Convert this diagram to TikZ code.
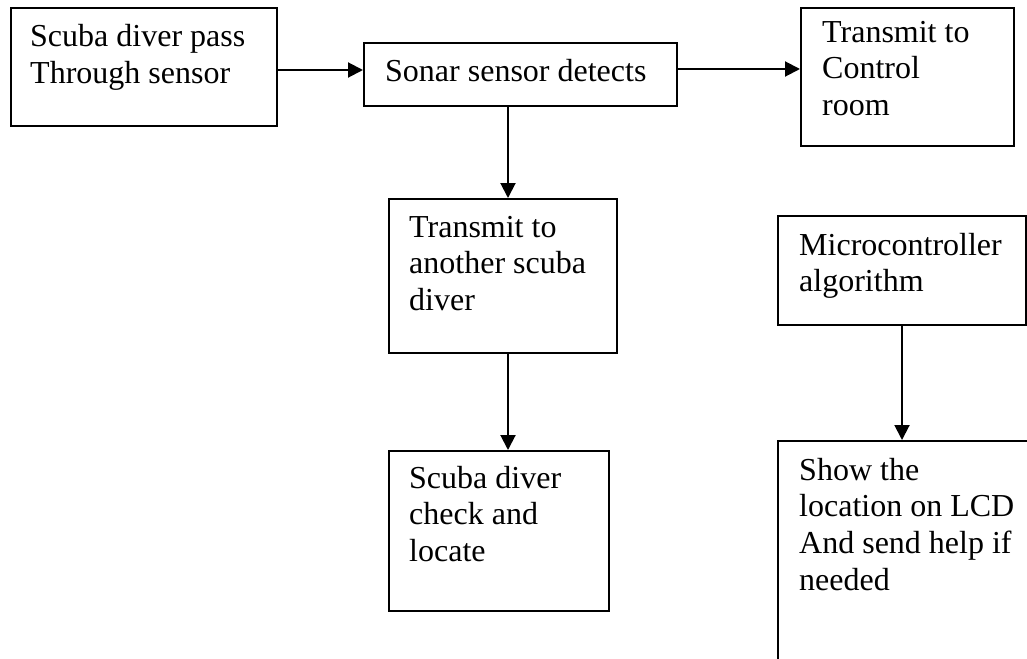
\documentclass[tikz,border=0pt]{standalone}
\usepackage{fontspec}
\setmainfont{Liberation Serif}
\usetikzlibrary{arrows.meta}
\begin{document}
\begin{tikzpicture}[x=1pt,y=-1pt,
  box/.style={draw, line width=2pt, rectangle, inner sep=0pt, anchor=north west},
  boxtext/.style={anchor=base west, inner sep=0pt, align=left,
    font=\fontsize{32}{36.8}\selectfont},
  flow/.style={line width=2pt, -{Triangle[length=15pt,width=15pt]}}]
\useasboundingbox (0,0) rectangle (1027,658);
\fill[white] (0,0) rectangle (1027,658);

% boxes
\node[box, minimum width=266pt, minimum height=118pt] (b1) at (10,7) {};
\node[box, minimum width=313pt, minimum height=63pt]  (b2) at (363,42) {};
\node[box, minimum width=213pt, minimum height=138pt] (b3) at (800,7) {};
\node[box, minimum width=228pt, minimum height=154pt] (b4) at (388,198) {};
\node[box, minimum width=220pt, minimum height=160pt] (b5) at (388,450) {};
\node[box, minimum width=248pt, minimum height=109pt] (b6) at (777,215) {};
\begin{scope}
  \clip (0,0) rectangle (1027,658);
  \node[box, minimum width=290pt, minimum height=260pt] (b7) at (777,440) {};
\end{scope}

% texts (anchored at the baseline of their last line)
\node[boxtext] (t1) at ([shift={(20,76.8)}]b1.north west) {Scuba diver pass\\Through sensor};
\node[boxtext] (t2) at ([shift={(22,40)}]b2.north west) {Sonar sensor detects};
\node[boxtext] (t3) at ([shift={(22,108.6)}]b3.north west) {Transmit to\\Control\\room};
\node[boxtext] (t4) at ([shift={(21,112.6)}]b4.north west) {Transmit to\\another scuba\\diver};
\node[boxtext] (t5) at ([shift={(21,111.6)}]b5.north west) {Scuba diver\\check and\\locate};
\node[boxtext] (t6) at ([shift={(22,76.8)}]b6.north west) {Microcontroller\\algorithm};
\node[boxtext] (t7) at ([shift={(22,150.4)}]b7.north west) {Show the\\location on LCD\\And send help if\\needed};

% connectors
\draw[flow] (b1.east |- 0,70) -- (b2.west |- 0,70);
\draw[flow] (b2.east |- 0,69) -- (b3.west |- 0,69);
\draw[flow] (b2.south -| 508,0) -- (b4.north -| 508,0);
\draw[flow] (b4.south -| 508,0) -- (b5.north -| 508,0);
\draw[flow] (b6.south -| 902,0) -- (b7.north -| 902,0);
\end{tikzpicture}
\end{document}
